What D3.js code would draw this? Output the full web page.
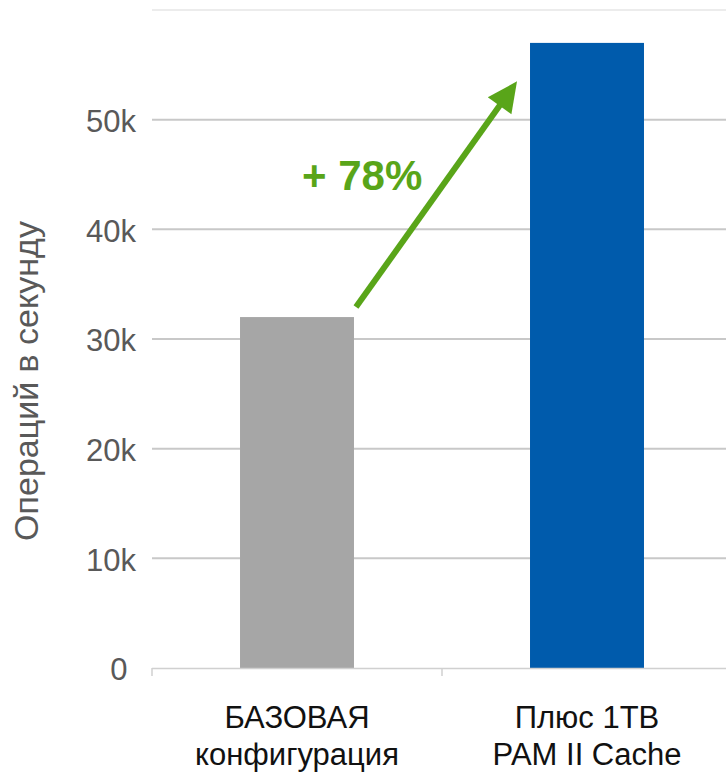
<!DOCTYPE html>
<html>
<head>
<meta charset="utf-8">
<script src="https://cdn.jsdelivr.net/npm/d3@7"></script>
<style>
  html, body { margin: 0; padding: 0; background: #fff; }
  text { font-family: "Liberation Sans", Arial, sans-serif; }
</style>
</head>
<body>
<svg id="chart" width="726" height="772"></svg>
<script>
// ── Data ──────────────────────────────────
const categories = [
  ['БАЗОВАЯ', 'конфигурация'],
  ['Плюс 1TB', 'PAM II Cache']
];
const opsPerSec  = [32000, 57000];
const barColors  = ['#a6a6a6', '#005bac'];
const yTicks     = [0, 10000, 20000, 30000, 40000, 50000, 60000];
const gainLabel  = '+ 78%';

// ── Layout ────────────────────────────────
const W = 726, H = 772;
const plot = { left: 152, right: 732, top: 10, bottom: 668 };

const svg = d3.select('#chart');

const x = d3.scaleBand()
  .domain(d3.range(categories.length))
  .range([plot.left, plot.right])
  .paddingInner(0.607)
  .paddingOuter(0.3035);

const y = d3.scaleLinear()
  .domain([0, 60000])
  .range([plot.bottom, plot.top]);

// ── Gridlines ─────────────────────────────
svg.append('g')
  .selectAll('line')
  .data(yTicks.filter(d => d > 0))
  .join('line')
  .attr('x1', plot.left).attr('x2', W)
  .attr('y1', d => y(d)).attr('y2', d => y(d))
  .attr('stroke', d => d === 60000 ? '#ececec' : '#c8c8c8')
  .attr('stroke-width', 2);

// ── Y axis labels ─────────────────────────
const yAxis = d3.axisLeft(y)
  .tickValues(yTicks.filter(d => d < 60000))
  .tickSize(0)
  .tickPadding(16)
  .tickFormat(d => d === 0 ? '0\u00a0' : (d / 1000) + 'k');

svg.append('g')
  .attr('transform', `translate(${plot.left},0)`)
  .call(yAxis)
  .call(g => g.select('.domain').remove())
  .call(g => g.selectAll('text')
    .attr('fill', '#595959')
    .attr('font-size', 31)
    .attr('dy', '0.38em'));

svg.append('text')
  .attr('transform', `translate(38,381) rotate(-90)`)
  .attr('text-anchor', 'middle')
  .attr('font-size', 34)
  .attr('fill', '#595959')
  .text('Операций в секунду');

// ── Bars ──────────────────────────────────
svg.append('g')
  .selectAll('rect')
  .data(opsPerSec)
  .join('rect')
  .attr('x', (d, i) => x(i))
  .attr('width', x.bandwidth())
  .attr('y', d => y(d))
  .attr('height', d => y(0) - y(d))
  .attr('fill', (d, i) => barColors[i]);

// ── X axis ────────────────────────────────
const xg = svg.append('g');
xg.append('line')
  .attr('x1', plot.left).attr('x2', W)
  .attr('y1', plot.bottom + 0.5).attr('y2', plot.bottom + 0.5)
  .attr('stroke', '#d0d0d0').attr('stroke-width', 1.5);
xg.selectAll('line.tick')
  .data(d3.range(categories.length))
  .join('line')
  .attr('class', 'tick')
  .attr('x1', i => x(i) - x.step() * x.paddingOuter())
  .attr('x2', i => x(i) - x.step() * x.paddingOuter())
  .attr('y1', plot.bottom).attr('y2', plot.bottom + 8)
  .attr('stroke', '#d0d0d0').attr('stroke-width', 1.5);

xg.selectAll('text.cat')
  .data(categories)
  .join('text')
  .attr('class', 'cat')
  .attr('text-anchor', 'middle')
  .attr('font-size', 31)
  .attr('fill', '#111')
  .each(function(lines, i) {
    const t = d3.select(this);
    lines.forEach((ln, j) => {
      t.append('tspan')
        .attr('x', x(i) + x.bandwidth() / 2)
        .attr('y', 728 + j * 37)
        .text(ln);
    });
  });

// ── Growth arrow ──────────────────────────
const green = '#59a519';
const start = [x(0) + x.bandwidth() + 2, y(opsPerSec[0]) - 10];
const tip   = [x(1) - 13, y(53500)];
const dx = tip[0] - start[0], dy = tip[1] - start[1];
const len = Math.hypot(dx, dy);
const ux = dx / len, uy = dy / len;
const headLen = 30, headHalf = 14.5;
const base = [tip[0] - ux * headLen, tip[1] - uy * headLen];

svg.append('line')
  .attr('x1', start[0]).attr('y1', start[1])
  .attr('x2', base[0] + ux * 2).attr('y2', base[1] + uy * 2)
  .attr('stroke', green).attr('stroke-width', 6);

svg.append('path')
  .attr('d', `M${tip[0]},${tip[1]}` +
    `L${base[0] - uy * headHalf},${base[1] + ux * headHalf}` +
    `L${base[0] + uy * headHalf},${base[1] - ux * headHalf}Z`)
  .attr('fill', green);

svg.append('text')
  .attr('x', 302).attr('y', 190)
  .attr('font-size', 42)
  .attr('font-weight', 'bold')
  .attr('fill', green)
  .text(gainLabel);
</script>
</body>
</html>
